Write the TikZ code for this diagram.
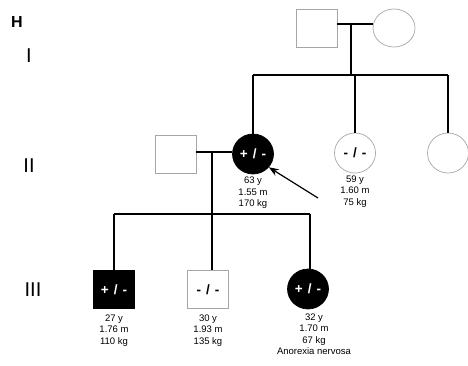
\documentclass[tikz,border=0pt]{standalone}
\usepackage{fontspec}
\setmainfont{Liberation Sans}
\usetikzlibrary{shapes.geometric,arrows.meta}
\begin{document}
\begin{tikzpicture}[x=1pt,y=-1pt,
  sq/.style={draw=gray!70,line width=0.7pt,minimum width=41pt,minimum height=38pt,inner sep=0pt},
  ci/.style={ellipse,draw=gray!70,line width=0.7pt,minimum width=41pt,minimum height=40pt,inner sep=0pt},
  aff/.style={fill=black,draw=black,text=white,font=\bfseries\fontsize{13.5}{14}\selectfont},
  unaff/.style={text=black,font=\bfseries\fontsize{13.5}{14}\selectfont},
  info/.style={align=center,font=\fontsize{9.5}{11.5}\selectfont,inner sep=0pt},
  gen/.style={font=\fontsize{20}{20}\selectfont,inner sep=0pt},
  ln/.style={line width=1.2pt,black},
]
\useasboundingbox (0,0) rectangle (468,365);
\newcommand{\plusminus}{+\hspace{5pt}/\hspace{5pt}-}
\newcommand{\minusminus}{-\hspace{5pt}/\hspace{5pt}-}
% generation labels
\node[font=\bfseries\fontsize{16}{16}\selectfont,inner sep=0pt] (H) at (17,21.5) {H};
\node[gen] (g1) at (29,56) {I};
\node[gen] (g2) at (29,165.5) {II};
\node[gen] (g3) at (33,290) {III};
% generation I
\node[sq] (a1) at (316.5,28) {};
\node[ci,minimum width=42pt,minimum height=38pt] (a2) at (394,28) {};
\coordinate (m1) at (351,24);
\coordinate (s1) at (351,75);
\coordinate (s1l) at (253,75);
\coordinate (s1r) at (448,75);
\draw[ln] (a1.east |- m1) -- (a2.west |- m1);
\draw[ln] (m1) -- (s1);
\draw[ln] (s1l) -- (s1r);
% generation II
\node[sq] (b1) at (175.5,154.5) {};
\node[ci,aff] (b2) at (253,154) {\plusminus};
\node[ci,unaff] (b3) at (355,153) {\minusminus};
\node[ci] (b4) at (448,153) {};
\draw[ln] (s1l) -- (b2.north);
\draw[ln] (s1 -| b3) -- (b3.north);
\draw[ln] (s1r) -- (b4.north);
\coordinate (m2) at (212,152);
\draw[ln] (b1.east |- m2) -- (b2.west |- m2);
\node[info] (t2) at (253,193) {63 y\\1.55 m\\170 kg};
\node[info] (t3) at (355,191.5) {59 y\\1.60 m\\75 kg};
\coordinate (arr) at (318,198);
\draw[line width=1.2pt,-{Stealth[length=10pt,width=7.5pt]}] (arr) -- (b2.-40);
% generation III
\coordinate (s2) at (212,214);
\coordinate (s2l) at (114,214);
\coordinate (s2r) at (310,214);
\draw[ln] (m2) -- (s2);
\draw[ln] (s2l) -- (s2r);
\node[sq,aff] (c1) at (114,289.5) {\plusminus};
\node[sq,unaff] (c2) at (208,289.5) {\minusminus};
\node[ci,aff] (c3) at (308,289) {\plusminus};
\draw[ln] (s2l) -- (c1.north);
\draw[ln] (s2) -- (s2 |- c2.north);
\draw[ln] (s2r) -- (s2r |- c3.north);
\node[info] (u1) at (114,330.5) {27 y\\1.76 m\\110 kg};
\node[info] (u2) at (208,330.5) {30 y\\1.93 m\\135 kg};
\node[info,anchor=north] (u3) at (314,313.5) {32 y\\1.70 m\\67 kg\\Anorexia nervosa};
\end{tikzpicture}
\end{document}
